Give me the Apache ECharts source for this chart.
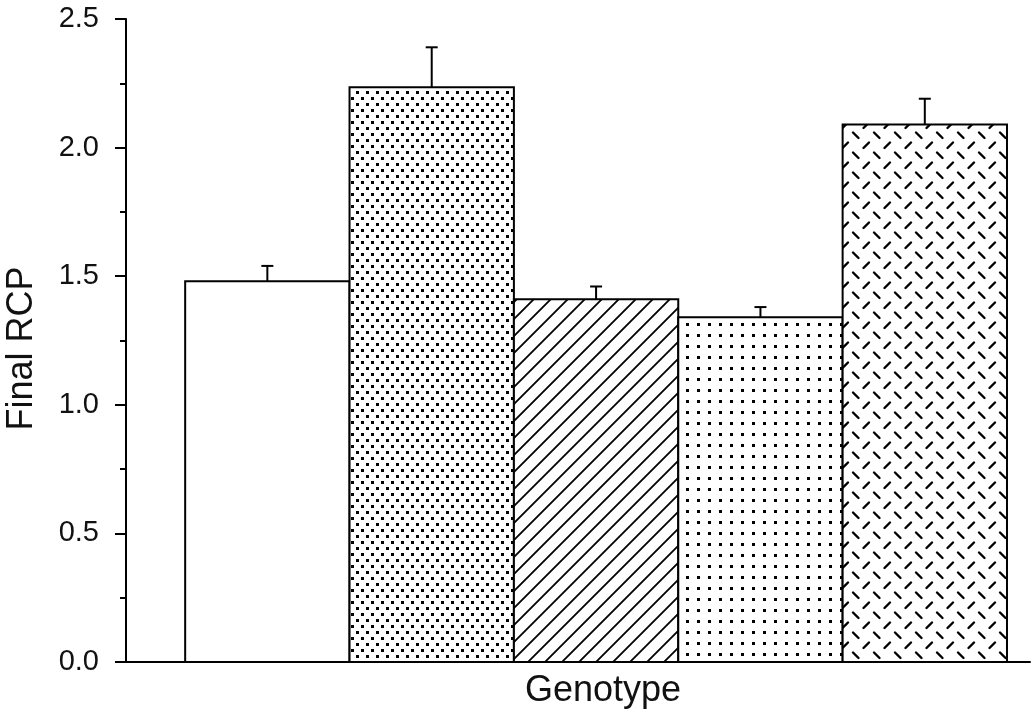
<!DOCTYPE html>
<html>
<head>
<meta charset="utf-8">
<script src="https://cdn.jsdelivr.net/npm/echarts@6/dist/echarts.min.js"></script>
<style>
  html, body { margin: 0; padding: 0; background: #fff; }
  #main { width: 1036px; height: 725px; }
</style>
</head>
<body>
<div id="main"></div>
<script>
// bar heights and upper error (SE), left to right
var rcpValues = [1.48, 2.235, 1.41, 1.34, 2.09];
var rcpErrors = [0.06, 0.155, 0.05, 0.04, 0.10];
var yTicks = [0.0, 0.5, 1.0, 1.5, 2.0, 2.5];

// fill patterns, one per genotype
function makeTile(w, h, draw) {
  var c = document.createElement('canvas');
  c.width = w; c.height = h;
  var ctx = c.getContext('2d');
  ctx.fillStyle = '#fff';
  ctx.fillRect(0, 0, w, h);
  ctx.fillStyle = '#000';
  ctx.strokeStyle = '#000';
  draw(ctx);
  return c;
}

var patterns = [
  null,
  // dense staggered dots
  makeTile(10, 12, function (ctx) {
    ctx.fillRect(1, 1, 3, 3);
    ctx.fillRect(6, 7, 3, 3);
  }),
  // diagonal hatch /
  makeTile(17, 17, function (ctx) {
    ctx.lineWidth = 1.8;
    ctx.beginPath();
    ctx.moveTo(-2, 19); ctx.lineTo(19, -2);
    ctx.moveTo(-2, 2); ctx.lineTo(2, -2);
    ctx.moveTo(15, 19); ctx.lineTo(19, 15);
    ctx.stroke();
  }),
  // square grid of dots
  makeTile(11, 11, function (ctx) {
    ctx.fillRect(4, 4, 3, 3);
  }),
  // alternating short dashes / and \
  makeTile(21, 20, function (ctx) {
    ctx.lineWidth = 2.4;
    ctx.lineCap = 'round';
    ctx.beginPath();
    ctx.moveTo(2.5, 8); ctx.lineTo(8, 2.5);
    ctx.moveTo(13, 12.5); ctx.lineTo(18.5, 18);
    ctx.stroke();
  })
];

var barData = rcpValues.map(function (v, i) { return [i, v, rcpErrors[i]]; });

var myChart = echarts.init(document.getElementById('main'));

var font = 'Liberation Sans, Arial, sans-serif';

var option = {
  animation: false,
  backgroundColor: '#fff',
  grid: { left: 126, right: 6, top: 19, bottom: 63, containLabel: false, outerBoundsMode: 'none' },
  xAxis: {
    type: 'value',
    min: -0.86,
    max: 4.64,
    name: 'Genotype',
    nameLocation: 'middle',
    nameGap: 11,
    nameTextStyle: {
      fontFamily: font,
      fontSize: 36,
      color: '#111',
      verticalAlign: 'top',
      padding: [0, 0, 0, 50]
    },
    axisLine: { show: true, onZero: false, lineStyle: { color: '#000', width: 2 } },
    axisTick: { show: false },
    axisLabel: { show: false },
    splitLine: { show: false }
  },
  yAxis: {
    type: 'value',
    min: yTicks[0],
    max: yTicks[yTicks.length - 1],
    interval: 0.5,
    name: 'Final RCP',
    nameLocation: 'middle',
    nameGap: 86,
    nameTextStyle: {
      fontFamily: font,
      fontSize: 36,
      color: '#111',
      padding: [0, 16, 0, 0]
    },
    axisLine: { show: true, onZero: false, lineStyle: { color: '#000', width: 2 } },
    axisTick: { show: true, inside: false, length: 11, lineStyle: { color: '#000', width: 2 } },
    minorTick: { show: true, splitNumber: 2, length: 6, lineStyle: { color: '#000', width: 2 } },
    axisLabel: {
      margin: 27,
      fontFamily: font,
      fontSize: 29,
      color: '#111',
      formatter: function (v) { return v.toFixed(1); }
    },
    splitLine: { show: false }
  },
  series: [{
    type: 'custom',
    data: barData,
    encode: { x: 0, y: [1, 2] },
    renderItem: function (params, api) {
      var i = api.value(0);
      var v = api.value(1);
      var e = api.value(2);
      var p0 = api.coord([i - 0.5, 0]);
      var p1 = api.coord([i + 0.5, v]);
      var pe = api.coord([i, v + e]);
      var pat = patterns[i];
      var fill = pat ? { image: pat, repeat: 'repeat' } : '#fff';
      var capHalf = 6;
      return {
        type: 'group',
        children: [
          {
            type: 'rect',
            shape: { x: p0[0], y: p1[1], width: p1[0] - p0[0], height: p0[1] - p1[1] },
            style: { fill: fill, stroke: '#000', lineWidth: 2 }
          },
          {
            type: 'line',
            shape: { x1: pe[0], y1: p1[1], x2: pe[0], y2: pe[1] },
            style: { stroke: '#000', lineWidth: 2 }
          },
          {
            type: 'line',
            shape: { x1: pe[0] - capHalf, y1: pe[1], x2: pe[0] + capHalf, y2: pe[1] },
            style: { stroke: '#000', lineWidth: 2 }
          }
        ]
      };
    }
  }]
};

myChart.setOption(option);
</script>
</body>
</html>
